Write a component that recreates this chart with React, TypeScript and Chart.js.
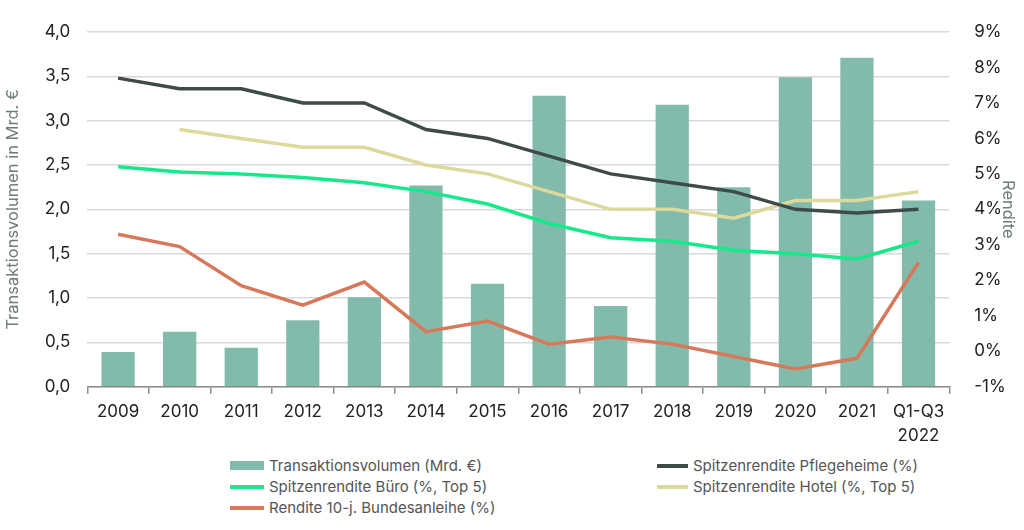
import React, { useEffect, useRef } from "react";
import { Chart, registerables } from "chart.js";

Chart.register(...registerables);

// Jahre / Zeiträume auf der x-Achse
const categories: (string | string[])[] = [
  "2009", "2010", "2011", "2012", "2013", "2014", "2015",
  "2016", "2017", "2018", "2019", "2020", "2021", ["Q1-Q3", "2022"],
];

// Transaktionsvolumen in Mrd. €
const volumen = [0.39, 0.62, 0.44, 0.75, 1.01, 2.27, 1.16, 3.28, 0.91, 3.18, 2.25, 3.49, 3.71, 2.1];

// Renditen in %
const renditePflege = [7.7, 7.4, 7.4, 7.0, 7.0, 6.25, 6.0, 5.5, 5.0, 4.75, 4.5, 4.0, 3.9, 4.0];
const renditeBuero = [5.2, 5.05, 5.0, 4.9, 4.75, 4.5, 4.15, 3.6, 3.2, 3.1, 2.85, 2.75, 2.6, 3.1];
const renditeHotel = [null, 6.25, 6.0, 5.75, 5.75, 5.25, 5.0, 4.5, 4.0, 4.0, 3.75, 4.25, 4.25, 4.5];
const renditeBund = [3.3, 2.95, 1.85, 1.3, 1.95, 0.55, 0.85, 0.2, 0.4, 0.2, -0.15, -0.5, -0.2, 2.5];

// Achsen
const leftTicks = { min: 0, max: 4, step: 0.5 };
const rightTicks = { min: -1, max: 9, step: 1 };

const FONT = "Inter, 'Noto Sans', sans-serif";
const C_BAR = "#82bbab";
const C_PFLEGE = "#3d4b4a";
const C_BUERO = "#17e98b";
const C_HOTEL = "#ddd89b";
const C_BUND = "#d6795b";

type LegendItem = { label: string; color: string; kind: "box" | "line" };

const legendLeft: LegendItem[] = [
  { label: "Transaktionsvolumen (Mrd. €)", color: C_BAR, kind: "box" },
  { label: "Spitzenrendite Büro (%, Top 5)", color: C_BUERO, kind: "line" },
  { label: "Rendite 10-j. Bundesanleihe (%)", color: C_BUND, kind: "line" },
];
const legendRight: LegendItem[] = [
  { label: "Spitzenrendite Pflegeheime (%)", color: C_PFLEGE, kind: "line" },
  { label: "Spitzenrendite Hotel (%, Top 5)", color: C_HOTEL, kind: "line" },
];

function LegendColumn({ items, left, swatchW }: { items: LegendItem[]; left: number; swatchW: number }) {
  return (
    <div style={{ position: "absolute", left, top: 455 }}>
      {items.map((it) => (
        <div
          key={it.label}
          style={{ display: "flex", alignItems: "center", height: 21, whiteSpace: "nowrap" }}
        >
          <span
            style={{
              display: "inline-block",
              width: swatchW,
              height: it.kind === "box" ? 9 : 4,
              background: it.color,
              marginRight: 5,
            }}
          />
          <span style={{ fontFamily: FONT, fontSize: 15, color: "#555" }}>{it.label}</span>
        </div>
      ))}
    </div>
  );
}

export default function App() {
  const canvasRef = useRef<HTMLCanvasElement | null>(null);

  useEffect(() => {
    if (!canvasRef.current) return;
    const lineDs = (label: string, data: (number | null)[], color: string, order: number) => ({
      type: "line" as const,
      label,
      data,
      yAxisID: "y1",
      borderColor: color,
      backgroundColor: color,
      borderWidth: 3.5,
      pointRadius: 0,
      tension: 0,
      order,
    });

    const chart = new Chart(canvasRef.current, {
      type: "bar",
      data: {
        labels: categories,
        datasets: [
          {
            type: "bar",
            label: "Transaktionsvolumen (Mrd. €)",
            data: volumen,
            yAxisID: "y",
            backgroundColor: C_BAR,
            barPercentage: 0.54,
            categoryPercentage: 1,
            order: 10,
          },
          lineDs("Spitzenrendite Pflegeheime (%)", renditePflege, C_PFLEGE, 1),
          lineDs("Spitzenrendite Büro (%, Top 5)", renditeBuero, C_BUERO, 3),
          lineDs("Spitzenrendite Hotel (%, Top 5)", renditeHotel, C_HOTEL, 2),
          lineDs("Rendite 10-j. Bundesanleihe (%)", renditeBund, C_BUND, 4),
        ] as any,
      },
      options: {
        animation: false,
        responsive: false,
        maintainAspectRatio: false,
        layout: { padding: { top: 32, left: 0, right: 0, bottom: 0 } },
        plugins: { legend: { display: false }, tooltip: { enabled: false } },
        scales: {
          x: {
            grid: {
              offset: true,
              drawOnChartArea: false,
              drawTicks: true,
              tickLength: 7,
              color: "#8c8c8c",
              lineWidth: 1.5,
            },
            border: { color: "#8c8c8c", width: 1.5 },
            ticks: {
              autoSkip: false,
              maxRotation: 0,
              padding: 6,
              color: "#222",
              font: { family: FONT, size: 17, lineHeight: 1.42 },
            },
            afterFit: (s: any) => {
              s.height = 63.3;
            },
          },
          y: {
            position: "left",
            min: leftTicks.min,
            max: leftTicks.max,
            grid: { color: "#d9d9d9", lineWidth: 1.5, drawTicks: false },
            border: { display: false },
            ticks: {
              stepSize: leftTicks.step,
              padding: 17,
              color: "#222",
              font: { family: FONT, size: 17 },
              callback: (v: any) => Number(v).toFixed(1).replace(".", ","),
            },
            title: {
              display: true,
              text: "Transaktionsvolumen in Mrd. €",
              color: "#6d7c7a",
              font: { family: FONT, size: 16.5 },
              padding: { top: 3, bottom: 0 },
            },
            afterFit: (s: any) => {
              s.width = 87.3;
            },
          },
          y1: {
            position: "right",
            min: rightTicks.min,
            max: rightTicks.max,
            grid: { display: false },
            border: { display: false },
            ticks: {
              stepSize: rightTicks.step,
              padding: 17,
              color: "#222",
              font: { family: FONT, size: 17 },
              callback: (v: any) => `${v}%`,
            },
            title: {
              display: true,
              text: "Rendite",
              color: "#6d7c7a",
              font: { family: FONT, size: 16.5 },
              padding: { top: 6, bottom: 0 },
            },
            afterFit: (s: any) => {
              s.width = 74.7;
            },
          },
        },
      } as any,
    });
    return () => chart.destroy();
  }, []);

  return (
    <div style={{ position: "absolute", left: 0, top: 0, width: 1024, height: 530, background: "#fff" }}>
      <canvas ref={canvasRef} width={1024} height={450} style={{ display: "block" }} />
      <LegendColumn items={legendLeft} left={230} swatchW={34} />
      <LegendColumn items={legendRight} left={657} swatchW={31} />
    </div>
  );
}
